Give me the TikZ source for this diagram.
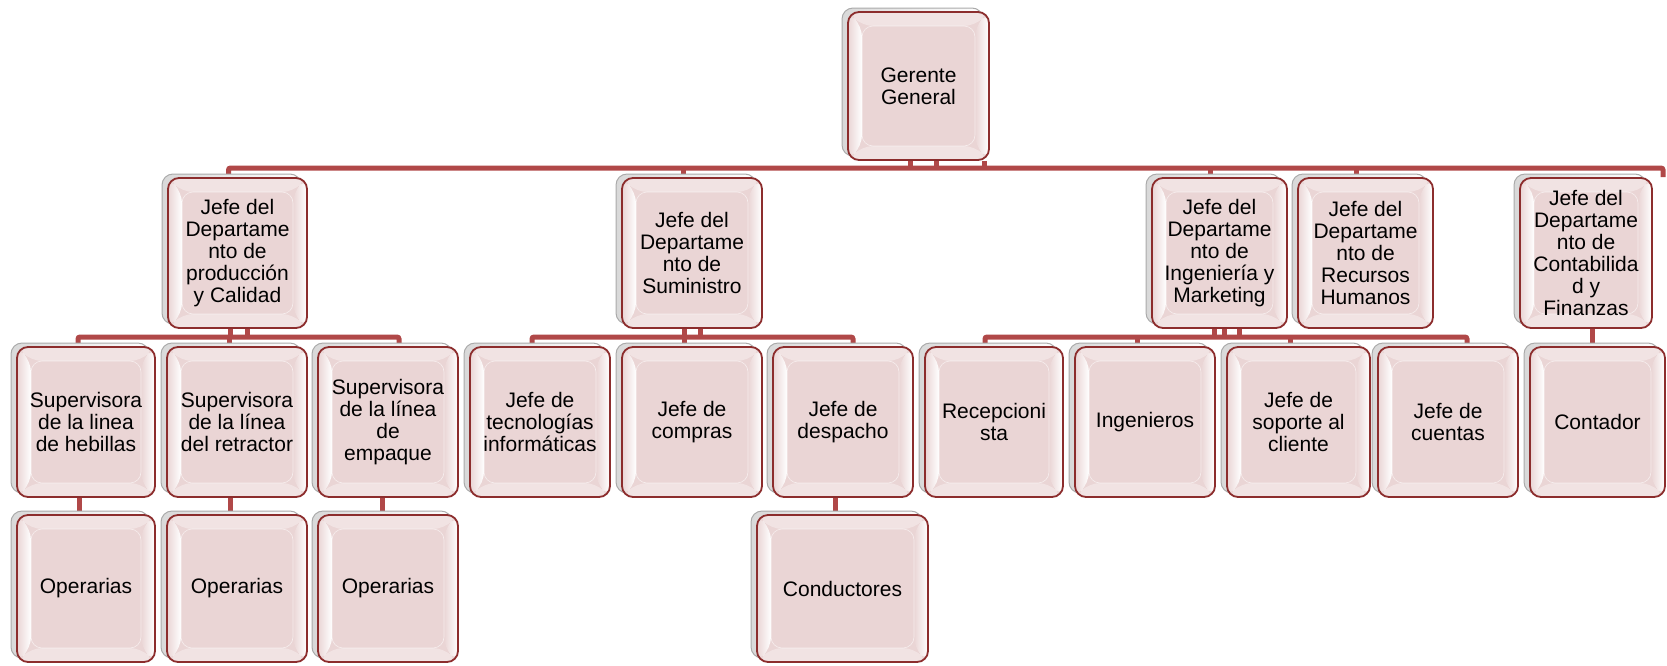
\documentclass[tikz,border=0pt]{standalone}
\usepackage{fontspec}
\setmainfont{Liberation Sans}
\usetikzlibrary{calc,backgrounds}
\definecolor{boxfill}{RGB}{234,213,213}
\definecolor{boxborder}{RGB}{140,45,45}
\definecolor{conncol}{RGB}{176,72,72}
\definecolor{shadowedge}{RGB}{170,170,170}
\newcommand{\obox}[6]{%
  \path[shadowbox] ({#2-6},{#4-4}) rectangle ({#3-6},{#5-4});
  \node[orgbox, minimum width={(#3-#2)*1pt}, minimum height={(#5-#4)*1pt}] (#1) at ({(#2+#3)/2},{(#4+#5)/2}) {#6};}
\tikzset{
  bevel/.style={path picture={
    \coordinate (pNW) at (path picture bounding box.north west);
    \coordinate (pNE) at (path picture bounding box.north east);
    \coordinate (pSW) at (path picture bounding box.south west);
    \coordinate (pSE) at (path picture bounding box.south east);
    \coordinate (qNW) at ($(pNW)+(14pt,-14pt)$);
    \coordinate (qNE) at ($(pNE)+(-14pt,-14pt)$);
    \coordinate (qSW) at ($(pSW)+(14pt,14pt)$);
    \coordinate (qSE) at ($(pSE)+(-14pt,14pt)$);
    \shade[left color=boxfill, right color=white] (pNW) -- (qNW) -- (qSW) -- (pSW) -- cycle;
    \shade[left color=boxfill, right color=white] (pNE) -- (qNE) -- (qSE) -- (pSE) -- cycle;
    \fill[white,opacity=0.35] (pNW) -- (pNE) -- (qNE) -- (qNW) -- cycle;
    \fill[white,opacity=0.35] (pSW) -- (pSE) -- (qSE) -- (qSW) -- cycle;
    \draw[white,opacity=0.6,line width=0.6pt] (qNW) -- (qNE) -- (qSE) -- (qSW) -- cycle;
  }},
  orgbox/.style={draw=boxborder, line width=1.8pt, fill=boxfill, rounded corners=11pt,
    align=center, inner sep=0pt, font=\fontsize{21pt}{22pt}\selectfont, bevel},
  shadowbox/.style={draw=shadowedge, line width=1pt, rounded corners=11pt,
    left color=gray!30, right color=white},
  conn/.style={draw=conncol, line width=5pt, rounded corners=2pt}
}
\begin{document}
\begin{tikzpicture}[x=1pt,y=-1pt]
\useasboundingbox (0,0) rectangle (1667,665);
\coordinate (b0) at (0,168);
\coordinate (b1) at (0,337);
\coordinate (re) at (1663,168);
% row 0
\obox{ger}{848}{989}{12}{160}{Gerente\\General}
% row 1
\obox{prod}{168}{307}{178}{328}{Jefe del\\Departame\\nto de\\producción\\y Calidad}
\obox{sum}{622}{762}{178}{328}{Jefe del\\Departame\\nto de\\Suministro}
\obox{ing}{1152}{1287}{178}{328}{Jefe del\\Departame\\nto de\\Ingeniería y\\Marketing}
\obox{rrhh}{1298}{1433}{178}{328}{Jefe del\\Departame\\nto de\\Recursos\\Humanos}
\obox{cont}{1520}{1652}{178}{328}{Jefe del\\Departame\\nto de\\Contabilida\\d y\\Finanzas}
% row 2
\obox{heb}{17}{155}{347}{497}{Supervisora\\de la linea\\de hebillas}
\obox{ret}{167}{307}{347}{497}{Supervisora\\de la línea\\del retractor}
\obox{emp}{318}{458}{347}{497}{Supervisora\\de la línea\\de\\empaque}
\obox{ti}{470}{610}{347}{497}{Jefe de\\tecnologías\\informáticas}
\obox{comp}{622}{762}{347}{497}{Jefe de\\compras}
\obox{desp}{773}{913}{347}{497}{Jefe de\\despacho}
\obox{rec}{925}{1063}{347}{497}{Recepcioni\\sta}
\obox{ingr}{1075}{1215}{347}{497}{Ingenieros}
\obox{sop}{1227}{1370}{347}{497}{Jefe de\\soporte al\\cliente}
\obox{cue}{1378}{1518}{347}{497}{Jefe de\\cuentas}
\obox{ctdr}{1530}{1665}{347}{497}{Contador}
% row 3
\obox{op1}{17}{155}{515}{662}{Operarias}
\obox{op2}{167}{307}{515}{662}{Operarias}
\obox{op3}{318}{458}{515}{662}{Operarias}
\obox{cond}{757}{928}{515}{662}{Conductores}
\begin{scope}[on background layer]
  % top level
  \draw[conn] ([xshift=-9pt]prod.north) |- (re) -- (re |- cont.north);
  \foreach \s in {-8,18,66}{\draw[conn] ([xshift=\s pt]ger.south) -- ([xshift=\s pt]ger.south |- b0);}
  \foreach \c in {sum,ing,rrhh}{\draw[conn] ([xshift=-9pt]\c.north) -- ([xshift=-9pt]\c.north |- b0);}
  % produccion
  \draw[conn] ([xshift=-8pt]heb.north) |- ([xshift=11pt]emp.north |- b1) -- ([xshift=11pt]emp.north);
  \draw[conn] ([xshift=-8pt]ret.north) -- ([xshift=-8pt]ret.north |- b1);
  \foreach \s in {-7,10}{\draw[conn] ([xshift=\s pt]prod.south) -- ([xshift=\s pt]prod.south |- b1);}
  % suministro
  \draw[conn] ([xshift=-8pt]ti.north) |- ([xshift=10pt]desp.north |- b1) -- ([xshift=10pt]desp.north);
  \draw[conn] ([xshift=-8pt]comp.north) -- ([xshift=-8pt]comp.north |- b1);
  \foreach \s in {-8,8}{\draw[conn] ([xshift=\s pt]sum.south) -- ([xshift=\s pt]sum.south |- b1);}
  % ingenieria
  \draw[conn] ([xshift=-9pt]rec.north) |- ([xshift=19pt]cue.north |- b1) -- ([xshift=19pt]cue.north);
  \foreach \c in {ingr,sop}{\draw[conn] ([xshift=-8pt]\c.north) -- ([xshift=-8pt]\c.north |- b1);}
  \foreach \s in {-5,5,20}{\draw[conn] ([xshift=\s pt]ing.south) -- ([xshift=\s pt]ing.south |- b1);}
  % contabilidad
  \draw[conn] ([xshift=6pt]cont.south) -- ([xshift=6pt]cont.south |- ctdr.north);
  % level 2 to 3
  \draw[conn] ([xshift=-7pt]heb.south) -- ([xshift=-7pt]heb.south |- op1.north);
  \draw[conn] ([xshift=-7pt]ret.south) -- ([xshift=-7pt]ret.south |- op2.north);
  \draw[conn] ([xshift=-6pt]emp.south) -- ([xshift=-6pt]emp.south |- op3.north);
  \draw[conn] ([xshift=-8pt]desp.south) -- ([xshift=-8pt]desp.south |- cond.north);
\end{scope}
\end{tikzpicture}
\end{document}
